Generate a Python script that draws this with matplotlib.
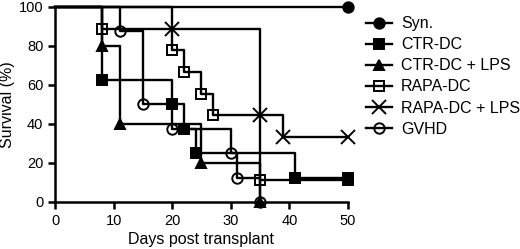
import matplotlib
matplotlib.use("Agg")
import matplotlib.pyplot as plt

plt.rcParams['font.family'] = ['Liberation Sans', 'DejaVu Sans']

# Kaplan-Meier steps: days and survival (%)
syn_t = [0, 50]
syn_s = [100, 100]
ctr_t = [0, 8, 20, 22, 24, 41, 50]
ctr_s = [100, 62.5, 50, 37.5, 25, 12.5, 12.5]
ctrlps_t = [0, 8, 11, 25, 35]
ctrlps_s = [100, 80, 40, 20, 0]
rapa_t = [0, 8, 20, 22, 25, 27, 35, 50]
rapa_s = [100, 88.9, 77.8, 66.7, 55.6, 44.4, 11.1, 11.1]
rapalps_t = [0, 20, 35, 39, 50]
rapalps_s = [100, 88.9, 44.4, 33.3, 33.3]
gvhd_t = [0, 11, 15, 20, 30, 31, 35]
gvhd_s = [100, 87.5, 50, 37.5, 25, 12.5, 0]

groups = [
    ("Syn.", syn_t, syn_s, "o", "black", 7.5),
    ("CTR-DC", ctr_t, ctr_s, "s", "black", 7.5),
    ("CTR-DC + LPS", ctrlps_t, ctrlps_s, "^", "black", 7.5),
    ("RAPA-DC", rapa_t, rapa_s, "s", "none", 7.5),
    ("RAPA-DC + LPS", rapalps_t, rapalps_s, "x", "none", 10),
    ("GVHD", gvhd_t, gvhd_s, "o", "none", 7.5),
]

fig = plt.figure(figsize=(5.2, 2.49), dpi=100)
ax = fig.add_axes([0.106, 0.189, 0.563, 0.783])

for name, t, s, mk, fc, ms in groups:
    ax.plot(t, s, drawstyle="steps-post", color="black", lw=1.7,
            clip_on=False, zorder=2)
    ax.plot(t[1:], s[1:], linestyle="none", marker=mk, markersize=ms,
            markerfacecolor=fc, markeredgecolor="black", markeredgewidth=1.4,
            clip_on=False, zorder=3)
    # legend proxy
    ax.plot([], [], color="black", lw=1.7, marker=mk, markersize=ms,
            markerfacecolor=fc, markeredgecolor="black",
            markeredgewidth=1.4, label=name)

ax.set_xlim(0, 50)
ax.set_ylim(0, 100)
ax.set_xticks([0, 10, 20, 30, 40, 50])
ax.set_yticks([0, 20, 40, 60, 80, 100])
for sp in ["top", "right"]:
    ax.spines[sp].set_visible(False)
for sp in ["left", "bottom"]:
    ax.spines[sp].set_linewidth(1.8)
ax.tick_params(direction="out", length=5, width=1.8, labelsize=10.5)
ax.set_xlabel("Days post transplant", fontsize=11.5, labelpad=3)
ax.set_ylabel("Survival (%)", fontsize=11.5, labelpad=3)

ax.legend(loc="upper left", bbox_to_anchor=(1.04, 0.985), frameon=False,
          fontsize=11.5, handlelength=1.6, handletextpad=0.6,
          labelspacing=0.38, borderaxespad=0)

fig.savefig("out.png", dpi=100)
